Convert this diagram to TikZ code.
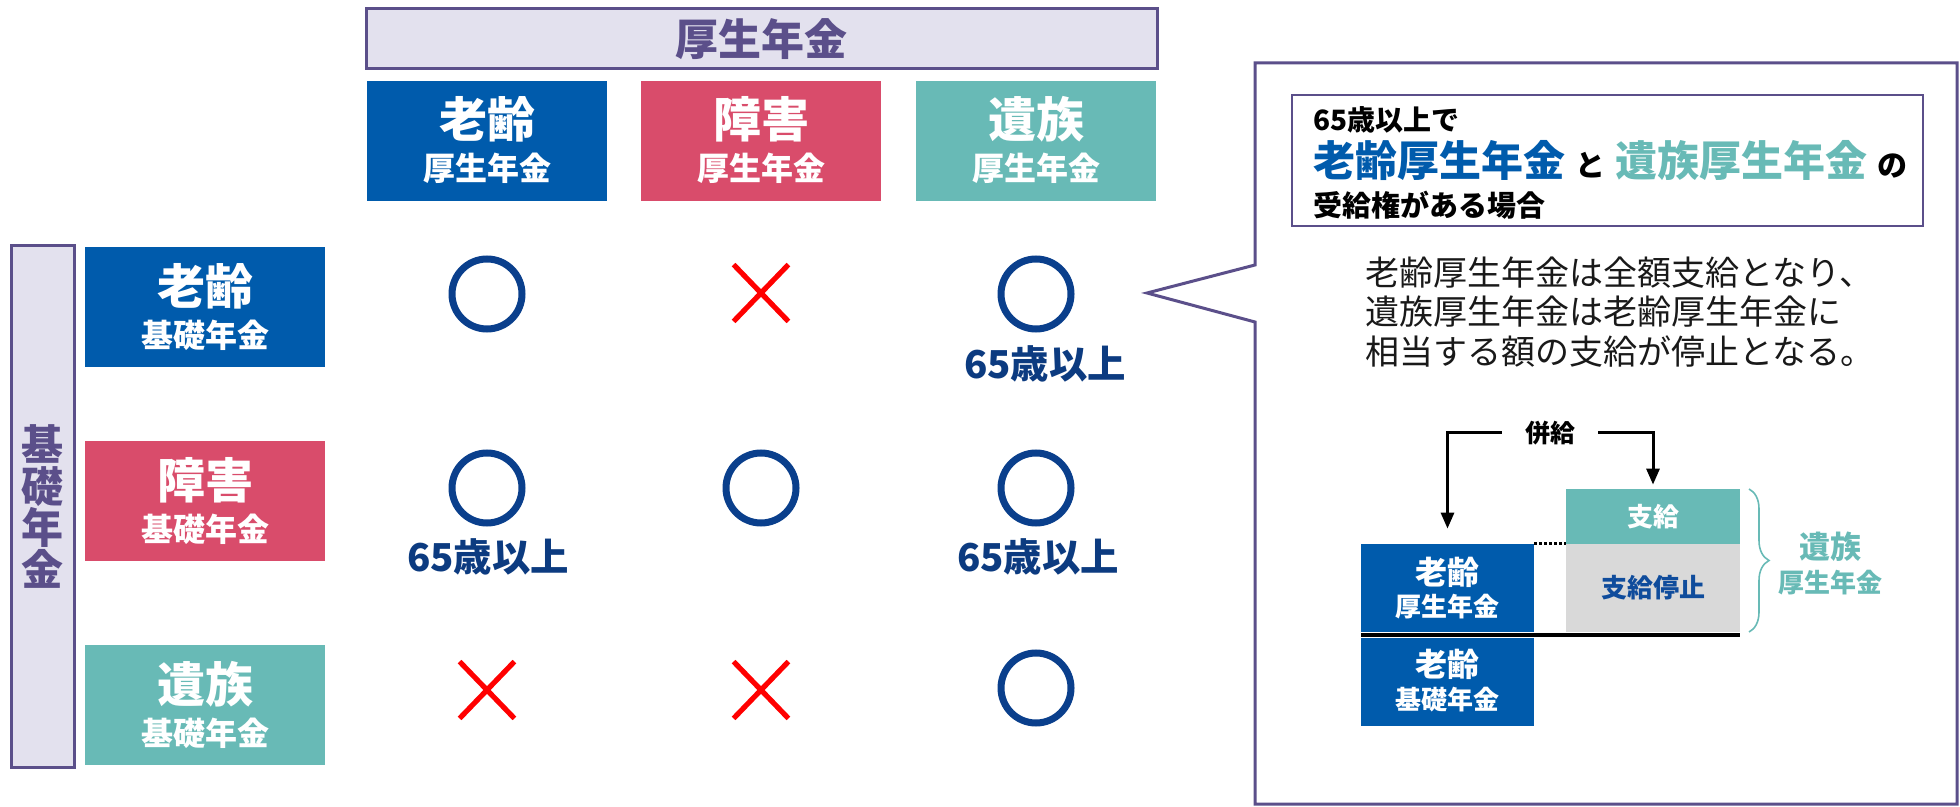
\documentclass[tikz,border=0pt]{standalone}
\usepackage{fontspec}
\setmainfont{Noto Sans CJK JP}
\usetikzlibrary{arrows.meta,decorations.pathreplacing}
\definecolor{cblue}{HTML}{005BAC}
\definecolor{cpink}{HTML}{D94C6B}
\definecolor{cteal}{HTML}{68BAB6}
\definecolor{clav}{HTML}{E3E1EE}
\definecolor{cpur}{HTML}{5B4F8A}
\definecolor{cnavy}{HTML}{0A3F8C}
\definecolor{cagetxt}{HTML}{0C3B80}
\definecolor{cred}{HTML}{FF0000}
\definecolor{cgray}{HTML}{D9D9D9}
\definecolor{cstop}{HTML}{0F4C9C}
\newcommand{\jfs}[1]{\fontsize{#1}{#1}\selectfont}
\tikzset{
  hdr/.style={inner sep=0pt, minimum width=120pt, minimum height=60pt},
  bigtxt/.style={inner sep=0pt, text=white, font=\bfseries\jfs{24}},
  subtxt/.style={inner sep=0pt, text=white, font=\bfseries\jfs{16}},
  okmark/.style={circle, draw=cnavy, line width=3.5pt, minimum size=35pt, inner sep=0pt},
  ngmark/.style={inner sep=0pt, minimum width=27pt, minimum height=28pt},
  xline/.style={draw=cred, line width=2.6pt},
  agetxt/.style={inner sep=0pt, text=cagetxt, font=\bfseries\jfs{19.2}},
  lavbox/.style={draw=cpur, fill=clav, line width=1.5pt, inner sep=0pt, text=cpur, font=\bfseries},
  dbox/.style={inner sep=0pt, minimum width=86.5pt, minimum height=44pt},
  arr/.style={draw=black, line width=1.5pt, -{Triangle[length=8pt,width=6.5pt]}},
}
\begin{document}
\begin{tikzpicture}[x=0.5pt,y=-0.5pt]
\useasboundingbox (0,0) rectangle (1960,807);
% top title box
\node[lavbox, minimum width=395.5pt, minimum height=30pt, font=\bfseries\jfs{21.5}] (kosei) at (761.5,39) {厚生年金};
% left vertical box
\node[lavbox, minimum width=31.5pt, minimum height=260.5pt, align=center, font=\bfseries\fontsize{21}{20.8}\selectfont] (kiso) at (42.5,506.5) {基\\礎\\年\\金};
% column headers
\node[hdr, fill=cblue] (c1) at (487,141) {};
\node[bigtxt] (c1a) at ([yshift=11pt]c1.center) {老齢};
\node[subtxt] (c1b) at ([yshift=-13.5pt]c1.center) {厚生年金};
\node[hdr, fill=cpink] (c2) at (761,141) {};
\node[bigtxt] (c2a) at ([yshift=11pt]c2.center) {障害};
\node[subtxt] (c2b) at ([yshift=-13.5pt]c2.center) {厚生年金};
\node[hdr, fill=cteal] (c3) at (1036,141) {};
\node[bigtxt] (c3a) at ([yshift=11pt]c3.center) {遺族};
\node[subtxt] (c3b) at ([yshift=-13.5pt]c3.center) {厚生年金};
% row headers
\node[hdr, fill=cblue] (r1) at (205,307) {};
\node[bigtxt] (r1a) at ([yshift=10.5pt]r1.center) {老齢};
\node[subtxt] (r1b) at ([yshift=-14pt]r1.center) {基礎年金};
\node[hdr, fill=cpink] (r2) at (205,501) {};
\node[bigtxt] (r2a) at ([yshift=10.5pt]r2.center) {障害};
\node[subtxt] (r2b) at ([yshift=-14pt]r2.center) {基礎年金};
\node[hdr, fill=cteal] (r3) at (205,705) {};
\node[bigtxt] (r3a) at ([yshift=10.5pt]r3.center) {遺族};
\node[subtxt] (r3b) at ([yshift=-14pt]r3.center) {基礎年金};
% matrix marks
\node[okmark] (m11) at (487,294) {};
\node[ngmark] (m12) at (761,293) {};
\draw[xline] (m12.north west) -- (m12.south east) (m12.north east) -- (m12.south west);
\node[okmark] (m13) at (1036,294) {};
\node[agetxt] (a13) at (1045,364) {65歳以上};
\node[okmark] (m21) at (487,488) {};
\node[agetxt] (a21) at (488,557) {65歳以上};
\node[okmark] (m22) at (761,488) {};
\node[okmark] (m23) at (1036,488) {};
\node[agetxt] (a23) at (1038,557) {65歳以上};
\node[ngmark] (m31) at (487,690) {};
\draw[xline] (m31.north west) -- (m31.south east) (m31.north east) -- (m31.south west);
\node[ngmark] (m32) at (761,690) {};
\draw[xline] (m32.north west) -- (m32.south east) (m32.north east) -- (m32.south west);
\node[okmark] (m33) at (1036,688) {};
% callout
\draw[cpur, line width=1.5pt, line join=miter] (1255,63) -- (1957,63) -- (1957,804) -- (1255,804) -- (1255,322) -- (1147,293) -- (1255,265) -- cycle;
\node[draw=cpur, line width=1pt, inner sep=0pt, minimum width=315.5pt, minimum height=65.5pt] (cbox) at (1607.5,160.5) {};
\node[inner sep=0pt, anchor=west, font=\bfseries\jfs{14}] (t1) at (1313,120) {65歳以上で};
\node[inner sep=0pt, anchor=west, font=\bfseries] (t2) at (1313,161) {{\color{cblue}\jfs{21}老齢厚生年金}\hspace{5pt}{\jfs{15}と}\hspace{5pt}{\color{cteal}\jfs{21}遺族厚生年金}\hspace{5pt}{\jfs{15}の}};
\node[inner sep=0pt, anchor=west, font=\bfseries\jfs{14.5}] (t3) at (1313,205) {受給権がある場合};
\node[inner sep=0pt, anchor=west, align=left, text=black!90, font=\fontsize{17}{19.75}\selectfont] (body) at (1365,312) {老齢厚生年金は全額支給となり、\\遺族厚生年金は老齢厚生年金に\\相当する額の支給が停止となる。};
% small diagram
\node[inner xsep=11.5pt, inner ysep=2pt, font=\bfseries\jfs{12.5}] (heik) at (1550,433) {併給};
\node[dbox, fill=cteal, minimum width=87pt, minimum height=27.5pt, text=white, font=\bfseries\jfs{13}] (shik) at (1653,516.5) {支給};
\node[dbox, fill=cgray, minimum width=87pt, text=cstop, font=\bfseries\jfs{13}] (teis) at (1653,588) {支給停止};
\node[dbox, fill=cblue] (rk) at (1447.5,588) {};
\node[inner sep=0pt, text=white, font=\bfseries\jfs{16}] (rka) at ([yshift=8pt]rk.center) {老齢};
\node[inner sep=0pt, text=white, font=\bfseries\jfs{13}] (rkb) at ([yshift=-9.5pt]rk.center) {厚生年金};
\node[dbox, fill=cblue] (rb) at (1447.5,682) {};
\node[inner sep=0pt, text=white, font=\bfseries\jfs{16}] (rba) at ([yshift=9pt]rb.center) {老齢};
\node[inner sep=0pt, text=white, font=\bfseries\jfs{13}] (rbb) at ([yshift=-9pt]rb.center) {基礎年金};
\draw[arr, shorten >=7.5pt] (heik.west) -| (rk.north);
\draw[arr, shorten >=2pt] (heik.east) -| (shik.north);
\draw[black, line width=1.5pt, dash pattern=on 1.5pt off 1pt] (rk.north east) -- (teis.north west);
\coordinate (dl1) at (1361,635);
\coordinate (dl2) at (1740,635);
\draw[black, line width=1.6pt] (dl1) -- (dl2);
\coordinate (br1) at (1749,489);
\coordinate (br2) at (1749,632);
\draw[cteal, line width=0.8pt, decorate, decoration={brace, amplitude=10pt}] (br1) -- (br2);
\node[inner sep=0pt, text=cteal, font=\bfseries\jfs{15.5}] (iz1) at (1830,547) {遺族};
\node[inner sep=0pt, text=cteal, font=\bfseries\jfs{13}] (iz2) at (1830,583) {厚生年金};
\end{tikzpicture}
\end{document}
